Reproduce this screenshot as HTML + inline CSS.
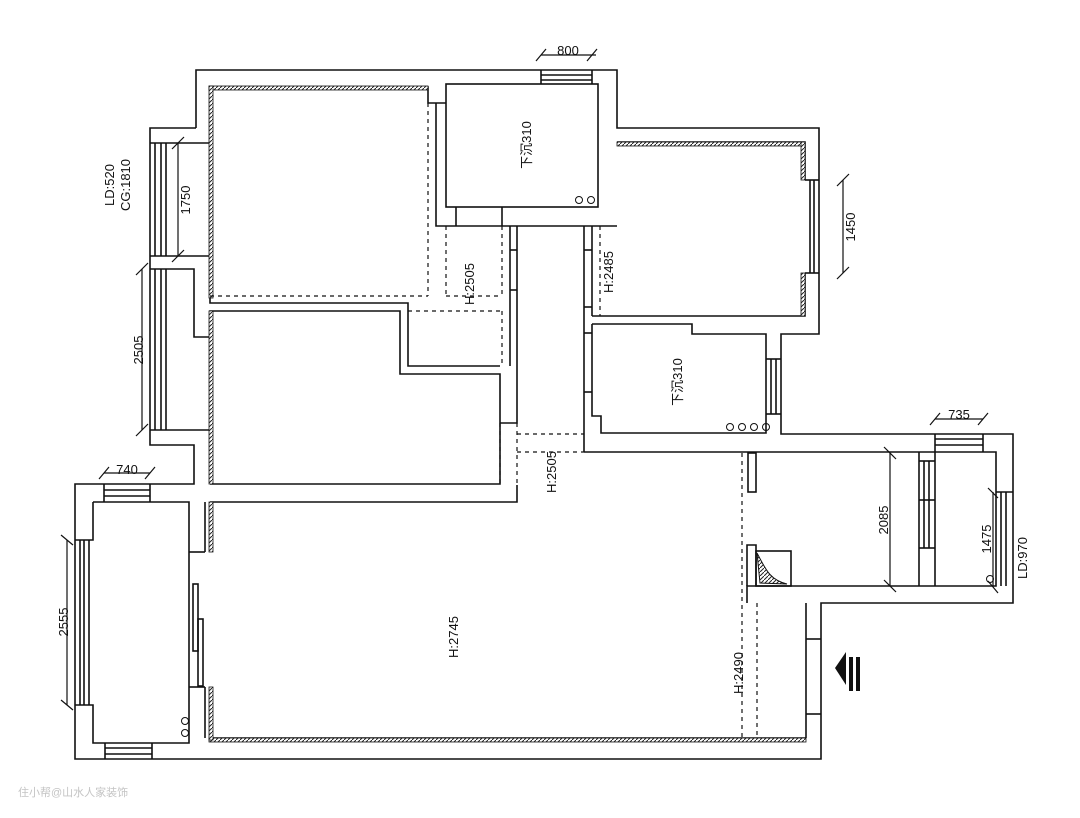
<!DOCTYPE html>
<html><head><meta charset="utf-8"><style>
html,body{margin:0;padding:0;background:#fff;}
svg{display:block;}
text{font-family:"Liberation Sans","Noto Sans CJK SC",sans-serif;fill:#111;}
</style></head><body>
<svg width="1080" height="818" viewBox="0 0 1080 818" xmlns="http://www.w3.org/2000/svg">
<defs>
<pattern id="h" width="4" height="4" patternUnits="userSpaceOnUse"><rect width="4" height="4" fill="#fff"/><path d="M0 4L4 0" stroke="#222" stroke-width="1"/></pattern>
</defs>
<g fill="none" stroke="#111" stroke-width="1.6">
<!-- outer contour -->
<polyline points="196,128 196,70 617,70 617,128 819,128 819,334 781,334 781,434 1013,434 1013,603 821,603 821,759 75,759 75,484 194,484 194,445 150,445 150,128 196,128"/>
<!-- master bedroom -->
<polyline points="210,143 210,87 428,87 428,103 446,103"/>
<polyline points="150,143 210,143"/><polyline points="150,256 210,256 210,298"/>
<polyline points="150,269 194,269 194,337 210,337"/>
<line x1="155" y1="143" x2="155" y2="256"/><line x1="161" y1="143" x2="161" y2="256"/><line x1="166" y1="143" x2="166" y2="256"/>
<line x1="155" y1="269" x2="155" y2="430"/><line x1="161" y1="269" x2="161" y2="430"/><line x1="166" y1="269" x2="166" y2="430"/>
<polyline points="150,430 210,430"/>
<polyline points="210,298 210,303 408,303 408,366 500,366"/>
<polyline points="210,430 210,311 400,311 400,374 500,374 500,484 210,484"/>
<polyline points="210,502 517,502 517,485"/>
<line x1="210" y1="337" x2="210" y2="430"/>
<!-- top bath -->
<polyline points="436,103 436,226 617,226"/>
<rect x="446" y="84" width="152" height="123"/>
<line x1="456" y1="207" x2="456" y2="226"/><line x1="502" y1="207" x2="502" y2="226"/>
<line x1="541" y1="70" x2="541" y2="84"/><line x1="592" y1="70" x2="592" y2="84"/>
<line x1="541" y1="75" x2="592" y2="75"/><line x1="541" y1="80" x2="592" y2="80"/>
<!-- corridor walls -->
<polyline points="510,226 510,366"/><polyline points="517,226 517,423 500,423"/>
<line x1="510" y1="250" x2="517" y2="250"/><line x1="510" y1="290" x2="517" y2="290"/>
<!-- bedroom 3 -->
<polyline points="617,142 805,142 805,180"/>
<polyline points="805,273 805,316 592,316"/>
<line x1="584" y1="226" x2="584" y2="452"/><line x1="592" y1="226" x2="592" y2="316"/>
<line x1="584" y1="250" x2="592" y2="250"/><line x1="584" y1="307" x2="592" y2="307"/>
<line x1="805" y1="180" x2="819" y2="180"/><line x1="805" y1="273" x2="819" y2="273"/>
<line x1="810" y1="180" x2="810" y2="273"/><line x1="814" y1="180" x2="814" y2="273"/>
<!-- bath 2 -->
<polyline points="592,324 692,324 692,334 766,334 766,433 601,433 601,416 592,416 592,324"/>
<line x1="584" y1="333" x2="592" y2="333"/><line x1="584" y1="392" x2="592" y2="392"/>
<line x1="766" y1="359" x2="781" y2="359"/><line x1="766" y1="414" x2="781" y2="414"/>
<line x1="771" y1="359" x2="771" y2="414"/><line x1="776" y1="359" x2="776" y2="414"/>
<!-- kitchen -->
<polyline points="584,452 996,452 996,586 747,586 747,603"/>
<polyline points="935,434 935,452"/><line x1="983" y1="434" x2="983" y2="452"/>
<line x1="935" y1="439" x2="983" y2="439"/><line x1="935" y1="445" x2="983" y2="445"/>
<line x1="919" y1="452" x2="919" y2="586"/><line x1="935" y1="452" x2="935" y2="586"/>
<line x1="924" y1="461" x2="924" y2="548"/><line x1="929" y1="461" x2="929" y2="548"/>
<line x1="919" y1="461" x2="935" y2="461"/><line x1="919" y1="500" x2="935" y2="500"/><line x1="919" y1="548" x2="935" y2="548"/>
<line x1="996" y1="492" x2="1013" y2="492"/>
<line x1="1001" y1="492" x2="1001" y2="586"/><line x1="1006" y1="492" x2="1006" y2="586"/>
<rect x="748" y="453" width="8" height="39"/>
<polyline points="747,586 747,545 756,545 756,586"/>
<rect x="756" y="551" width="35" height="35"/>
<!-- living -->
<polyline points="806,603 806,738"/>
<line x1="806" y1="639" x2="821" y2="639"/><line x1="806" y1="714" x2="821" y2="714"/>
<!-- left balcony -->
<polyline points="93,502 93,540 75,540"/><polyline points="75,705 93,705 93,743 189,743 189,502 93,502"/>
<line x1="80" y1="540" x2="80" y2="705"/><line x1="84" y1="540" x2="84" y2="705"/><line x1="89" y1="540" x2="89" y2="705"/>
<line x1="104" y1="484" x2="104" y2="502"/><line x1="150" y1="484" x2="150" y2="502"/>
<line x1="104" y1="490" x2="150" y2="490"/><line x1="104" y1="496" x2="150" y2="496"/>
<line x1="105" y1="743" x2="105" y2="759"/><line x1="152" y1="743" x2="152" y2="759"/>
<line x1="105" y1="748" x2="152" y2="748"/><line x1="105" y1="754" x2="152" y2="754"/>
<polyline points="189,552 205,552"/><polyline points="189,687 205,687"/>
<line x1="205" y1="502" x2="205" y2="552"/><line x1="205" y1="687" x2="205" y2="738"/>
<rect x="193" y="584" width="5" height="67"/><rect x="198" y="619" width="5" height="67"/>
<line x1="210" y1="738" x2="806" y2="738"/>
</g>
<!-- hatched walls -->
<g fill="url(#h)" stroke="#111" stroke-width="0.8">
<rect x="209" y="86" width="219" height="4"/><rect x="209" y="86" width="4" height="212"/>
<rect x="617" y="142" width="188" height="4"/><rect x="801" y="142" width="4" height="38"/><rect x="801" y="273" width="4" height="43"/>
<rect x="209" y="738" width="597" height="4"/><rect x="209" y="502" width="4" height="50"/><rect x="209" y="687" width="4" height="53"/>
<rect x="209" y="311" width="4" height="173"/>
</g>
<path d="M757,553 L760,583 L787,584 C770,580 766,570 757,553Z" fill="url(#h)" stroke="#111"/>
<!-- dashed lines -->
<g stroke="#111" stroke-width="1.2" stroke-dasharray="4,4" fill="none">
<line x1="210" y1="296" x2="428" y2="296"/><line x1="428" y1="103" x2="428" y2="296"/>
<line x1="446" y1="226" x2="446" y2="296"/><line x1="446" y1="296" x2="502" y2="296"/><line x1="502" y1="226" x2="502" y2="296"/>
<line x1="408" y1="311" x2="502" y2="311"/><line x1="502" y1="311" x2="502" y2="366"/>
<line x1="500" y1="423" x2="500" y2="484"/><line x1="517" y1="423" x2="517" y2="484"/>
<line x1="517" y1="434" x2="584" y2="434"/><line x1="517" y1="452" x2="584" y2="452"/>
<line x1="600" y1="226" x2="600" y2="316"/>
<line x1="742" y1="453" x2="742" y2="738"/><line x1="757" y1="603" x2="757" y2="738"/>
</g>
<!-- dims -->
<g stroke="#111" stroke-width="1.2">
<line x1="178" y1="143" x2="178" y2="256"/><line x1="172" y1="149" x2="184" y2="137"/><line x1="172" y1="262" x2="184" y2="250"/>
<line x1="142" y1="269" x2="142" y2="430"/><line x1="136" y1="275" x2="148" y2="263"/><line x1="136" y1="436" x2="148" y2="424"/>
<line x1="541" y1="55" x2="596" y2="55"/><line x1="536" y1="61" x2="546" y2="49"/><line x1="587" y1="61" x2="597" y2="49"/>
<line x1="843" y1="180" x2="843" y2="273"/><line x1="837" y1="186" x2="849" y2="174"/><line x1="837" y1="279" x2="849" y2="267"/>
<line x1="935" y1="419" x2="983" y2="419"/><line x1="930" y1="425" x2="940" y2="413"/><line x1="978" y1="425" x2="988" y2="413"/>
<line x1="890" y1="453" x2="890" y2="586"/><line x1="884" y1="447" x2="896" y2="459"/><line x1="884" y1="580" x2="896" y2="592"/>
<line x1="993" y1="492" x2="993" y2="586"/><line x1="988" y1="488" x2="998" y2="498"/><line x1="988" y1="581" x2="998" y2="593"/>
<line x1="104" y1="473" x2="150" y2="473"/><line x1="99" y1="479" x2="109" y2="467"/><line x1="145" y1="479" x2="155" y2="467"/>
<line x1="67" y1="540" x2="67" y2="705"/><line x1="61" y1="535" x2="73" y2="545"/><line x1="61" y1="700" x2="73" y2="710"/>
</g>
<g fill="none" stroke="#111" stroke-width="1">
<circle cx="579" cy="200" r="3.5"/><circle cx="591" cy="200" r="3.5"/>
<circle cx="730" cy="427" r="3.5"/><circle cx="742" cy="427" r="3.5"/><circle cx="754" cy="427" r="3.5"/><circle cx="766" cy="427" r="3.5"/>
<circle cx="185" cy="721" r="3.5"/><circle cx="185" cy="733" r="3.5"/>
<circle cx="990" cy="579" r="3.5"/>
</g>
<!-- entry arrow -->
<polygon points="835,668 846,652 846,685" fill="#111"/>
<rect x="849" y="657" width="4" height="34" fill="#111"/><rect x="856" y="657" width="4" height="34" fill="#111"/>
<!-- labels -->
<g font-size="13">
<text x="568" y="55" text-anchor="middle">800</text>
<text x="959" y="419" text-anchor="middle">735</text>
<text x="127" y="474" text-anchor="middle">740</text>
<text transform="translate(190,200) rotate(-90)" text-anchor="middle">1750</text>
<text transform="translate(143,350) rotate(-90)" text-anchor="middle">2505</text>
<text transform="translate(855,227) rotate(-90)" text-anchor="middle">1450</text>
<text transform="translate(888,520) rotate(-90)" text-anchor="middle">2085</text>
<text transform="translate(991,539) rotate(-90)" text-anchor="middle">1475</text>
<text transform="translate(68,622) rotate(-90)" text-anchor="middle">2555</text>
<text transform="translate(114,185) rotate(-90)" text-anchor="middle">LD:520</text>
<text transform="translate(130,185) rotate(-90)" text-anchor="middle">CG:1810</text>
<text transform="translate(1027,558) rotate(-90)" text-anchor="middle">LD:970</text>
<text transform="translate(474,284) rotate(-90)" text-anchor="middle">H:2505</text>
<text transform="translate(556,472) rotate(-90)" text-anchor="middle">H:2505</text>
<text transform="translate(613,272) rotate(-90)" text-anchor="middle">H:2485</text>
<text transform="translate(458,637) rotate(-90)" text-anchor="middle">H:2745</text>
<text transform="translate(743,673) rotate(-90)" text-anchor="middle">H:2490</text>
<text transform="translate(531,145) rotate(-90)" text-anchor="middle">下沉310</text>
<text transform="translate(682,382) rotate(-90)" text-anchor="middle">下沉310</text>
</g>
<text x="18" y="796" font-size="11" fill="#bbb" style="fill:#c4c4c4">住小帮@山水人家装饰</text>
</svg>
</body></html>
